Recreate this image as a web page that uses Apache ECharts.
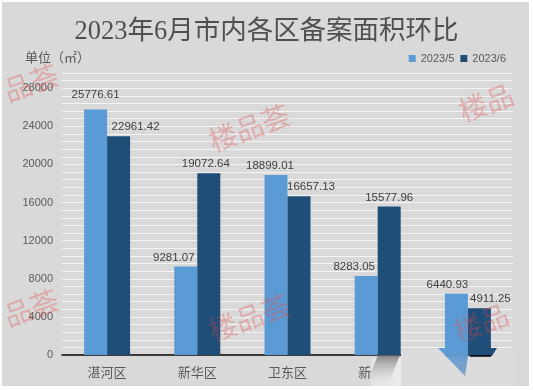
<!DOCTYPE html>
<html><head><meta charset="utf-8">
<script src="https://cdn.jsdelivr.net/npm/echarts@6/dist/echarts.min.js"></script>
<style>html,body{margin:0;padding:0;background:#fff}#c{width:533px;height:390px}</style>
</head><body><div id="c"></div>
<script>
const categories = ['湛河区', '新华区', '卫东区', '新城区', '高新区'];
const seriesMay = [25776.61, 9281.07, 18899.01, 8283.05, 6440.93];
const seriesJun = [22961.42, 19072.64, 16657.13, 15577.96, 4911.25];
const legendNames = ['2023/5', '2023/6'];
const yTickStep = 800;
const yLabelStep = 4000;
// label nudges (px), as placed by hand in the original
const mayLabelShift = [[0,-6],[-12,0],[-6,0],[-12,0],[-9,0]];
const junLabelShift = [[17,0],[-3,0],[12,0],[0,0],[11,0]];

const chart = echarts.init(document.getElementById('c'));
const G = echarts.graphic;
const wm = (x, y, t) => ({type:'text', left:x, top:y, rotation:0.35, z:100,
  style:{text:t, fill:'rgba(225,70,70,0.32)', font:'28px "Noto Sans CJK SC"'}});
const lbl = {show:true, position:'top', distance:3, color:'#404040', fontSize:11.5,
  fontFamily:'"Liberation Sans"', formatter:p=>p.value.toFixed(2)};
const build = (vals, shifts) => vals.map((v,i)=>({value:v, label:{offset:shifts[i]}}));
chart.setOption({
  backgroundColor:'#ffffff',
  title:{text:'2023年6月市内各区备案面积环比', left:'center', top:14,
    textStyle:{fontFamily:'"Liberation Serif","Noto Sans CJK SC"', fontSize:26.5, fontWeight:'normal', color:'#505050'}},
  legend:{data:legendNames, right:22, top:48, itemWidth:7, itemHeight:7, itemGap:6,
    icon:'rect', textStyle:{color:'#595959', fontSize:11, fontFamily:'"Liberation Sans"'}},
  graphic:[
    {type:'rect', z:-10, shape:{x:2, y:2, width:527, height:384}, style:{fill:'#d9d9d9'}},
    {type:'text', left:25, top:51, style:{text:'单位（㎡）', fill:'#595959', font:'13px "Noto Sans CJK SC"'}},
    wm(0,60,'品荟'), wm(205,100,'楼品荟'), wm(455,80,'楼品'),
    wm(0,285,'品荟'), wm(205,290,'楼品荟'), wm(450,300,'楼品'),
    // decorative overlay from the original image (arrow + smudges)
    {type:'rect', z:90, shape:{x:371, y:358, width:34, height:28},
      style:{fill:new G.LinearGradient(0,0,1,0,[{offset:0,color:'#e4e4e4'},{offset:1,color:'#ececec'}])}},
    {type:'rect', z:90, shape:{x:401, y:350, width:44, height:36}, style:{fill:'#dcdcdc'}},
    {type:'rect', z:90, shape:{x:445, y:357, width:70, height:29}, style:{fill:'#dcdcdc'}},
    {type:'rect', z:90, shape:{x:490, y:350, width:26, height:8}, style:{fill:'#dcdcdc'}},
    {type:'polygon', z:92, shape:{points:[[378,355],[400,355],[388,385],[366,385]]},
      style:{fill:new G.LinearGradient(0,0,0,1,[{offset:0,color:'rgba(100,100,100,0.75)'},{offset:1,color:'rgba(210,210,210,0)'}])}},
    {type:'polygon', z:95, shape:{points:[[438,348],[468,348],[468,356],[465,376]]},
      style:{fill:new G.LinearGradient(0,0,0,1,[{offset:0,color:'#5b9bd5'},{offset:1,color:'rgba(110,150,195,0.8)'}])}},
    {type:'polygon', z:95, shape:{points:[[468,348],[497,348],[492,356],[468,356]]},
      style:{fill:'#1f4e79'}},
    {type:'line', z:96, shape:{x1:470, y1:356, x2:491, y2:356}, style:{stroke:'#000', lineWidth:1.5}}
  ],
  grid:{left:62, right:20, top:73, bottom:35},
  xAxis:{type:'category', data:categories,
    axisLine:{lineStyle:{color:'#000', width:1.5}}, axisTick:{show:false},
    axisLabel:{color:'#595959', fontSize:13, margin:11, fontFamily:'"Noto Sans CJK SC"'}},
  yAxis:{type:'value', min:0, max:29600, interval:yTickStep,
    axisLine:{show:false}, axisTick:{show:false},
    splitLine:{lineStyle:{color:'#f4f4f4', width:1}},
    axisLabel:{color:'#595959', fontSize:11, margin:9, fontFamily:'"Liberation Sans"',
      formatter:v => (v % yLabelStep === 0 ? String(v) : '')}},
  series:[
    {name:legendNames[0], type:'bar', data:build(seriesMay, mayLabelShift), barWidth:23, barGap:'0%',
      itemStyle:{color:'#5b9bd5'}, label:lbl},
    {name:legendNames[1], type:'bar', data:build(seriesJun, junLabelShift), barWidth:23,
      itemStyle:{color:'#1f4e79'}, label:lbl}
  ]
});
</script></body></html>
